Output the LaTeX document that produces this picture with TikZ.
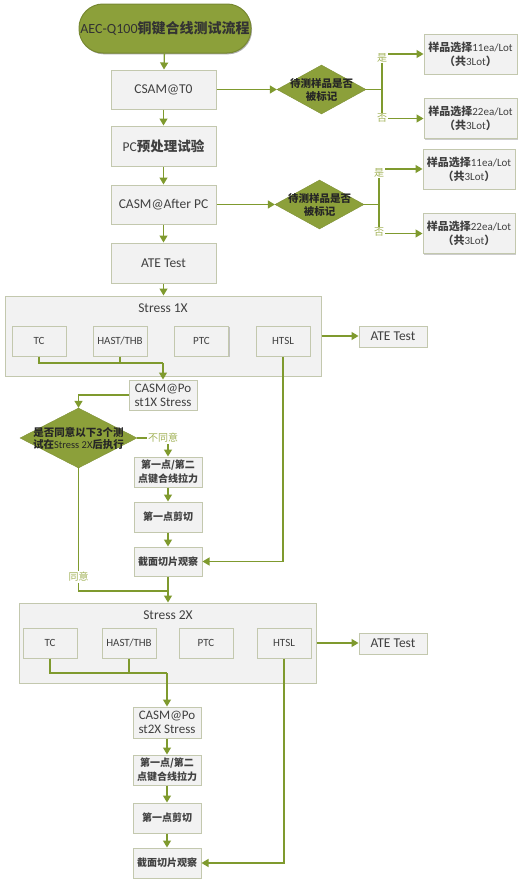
\documentclass[tikz,border=0pt]{standalone}
\usepackage{fontspec}
\setmainfont{Carlito}
\newfontfamily\cjkf{Noto Sans CJK SC}
\usetikzlibrary{shapes.geometric,shadows,arrows.meta}
\newcommand\zhb[1]{{\cjkf\bfseries #1}}
\newcommand\setfs[2]{\fontsize{#1}{#2}\selectfont}
\definecolor{lgreen}{HTML}{7F9A2E}
\definecolor{fgreen}{HTML}{8CA03A}
\definecolor{tgreen}{HTML}{A3B35A}
\definecolor{bfill}{HTML}{F2F2F2}
\definecolor{bdraw}{HTML}{C3C8AE}
\definecolor{txt}{HTML}{404040}
\tikzset{
  box/.style={draw=bdraw, line width=1pt, fill=bfill, text=txt, align=center, inner sep=1pt,
    drop shadow={shadow xshift=1pt,shadow yshift=-1.3pt,fill=black,opacity=0.2}},
  bigbox/.style={box, minimum width=105pt, minimum height=39pt, font=\setfs{13.5}{16}},
  rbox/.style={box, minimum width=93pt, minimum height=40pt, font=\setfs{11}{14}},
  ibox/.style={box, minimum width=54pt, minimum height=30pt, font=\setfs{11}{13}},
  abox/.style={box, minimum width=68pt, minimum height=21pt, font=\setfs{13.5}{16}},
  sbox/.style={box, minimum width=68pt, minimum height=30pt},
  cjkbox/.style={sbox, font=\cjkf\bfseries\setfs{10}{14}},
  dia/.style={diamond, fill=fgreen, draw=fgreen!90!black, inner sep=0pt},
  diat/.style={align=center, text=black!85, inner sep=0pt},
  line/.style={draw=lgreen, line width=1.3pt},
  conn/.style={line, -{Triangle[length=7pt,width=8pt]}},
  lab/.style={text=tgreen, fill=white, inner sep=1pt, font=\cjkf\setfs{10}{12}},
}
\begin{document}
\begin{tikzpicture}[x=1pt,y=-1pt]
\fill[white] (0,0) rectangle (522,886);
\useasboundingbox (0,0) rectangle (522,886);

% top part
\node[box, rounded corners=24pt, fill=fgreen, draw=fgreen!85!black, minimum width=172pt, minimum height=49pt, font=\setfs{14}{16}, text=black!80,
  drop shadow={shadow xshift=1pt,shadow yshift=-1.3pt,fill=black,opacity=0.15}] (title) at (165,28.5) {AEC-Q100\zhb{铜键合线测试流程}};
\node[bigbox] (b1) at (163.5,89.5) {CSAM@T0};
\node[bigbox, minimum height=40pt] (b2) at (163.5,146) {PC\zhb{预处理试验}};
\node[bigbox] (b3) at (163.5,204.5) {CASM@After PC};
\node[bigbox, minimum height=40pt] (b4) at (163.5,263) {ATE Test};

\node[dia, minimum width=89pt, minimum height=49pt] (d1) at (321.5,89.5) {};
\node[diat, font=\cjkf\bfseries\setfs{10.5}{13}] (d1t) at (321.5,89.5) {待测样品是否\\被标记};
\node[dia, minimum width=89pt, minimum height=49pt] (d2) at (319.5,204.5) {};
\node[diat, font=\cjkf\bfseries\setfs{10.5}{13}] (d2t) at (319.5,204.5) {待测样品是否\\被标记};

\node[rbox] (r1) at (470.5,54) {\zhb{样品选择}11ea/Lot\\\zhb{（共}3Lot\zhb{）}};
\node[rbox] (r2) at (470.5,118.5) {\zhb{样品选择}22ea/Lot\\\zhb{（共}3Lot\zhb{）}};
\node[rbox, minimum width=92pt] (r3) at (469,169) {\zhb{样品选择}11ea/Lot\\\zhb{（共}3Lot\zhb{）}};
\node[rbox, minimum width=92pt] (r4) at (469,233.5) {\zhb{样品选择}22ea/Lot\\\zhb{（共}3Lot\zhb{）}};

\coordinate (j1) at (382,89.5);
\coordinate (j2) at (379,204.5);

\draw[conn] (title) -- (b1);
\draw[conn] (b1) -- (b2);
\draw[conn] (b2) -- (b3);
\draw[conn] (b3) -- (b4);
\draw[conn] (b1) -- (d1);
\draw[conn] (b3) -- (d2);
\draw[line] (d1.east) -- (j1);
\draw[conn] (j1) |- (r1.west);
\draw[conn] (j1) |- (r2.west);
\draw[line] (d2.east) -- (j2);
\draw[conn] (j2) |- (r3.west);
\draw[conn] (j2) |- (r4.west);
\node[lab] (y1) at (382,57.5) {是};
\node[lab] (n1) at (382,118) {否};
\node[lab] (y2) at (379,172.5) {是};
\node[lab] (n2) at (379,232) {否};

% Stress 1X
\node[box, minimum width=316pt, minimum height=80pt] (s1) at (163,336) {};
\node[text=txt, font=\setfs{13.5}{16}] (s1t) at (163,308) {Stress 1X};
\node[ibox] (tc1) at (39,341) {TC};
\node[ibox] (ha1) at (120,341) {HAST/THB};
\node[ibox] (pt1) at (201.5,341) {PTC};
\node[ibox] (ht1) at (283,341) {HTSL};
\node[abox] (a1) at (393,336.5) {ATE Test};
\draw[conn] (b4.south) -- (b4.south |- s1.north);
\draw[conn] (s1.east) -- (s1.east -| a1.west);

\node[sbox, font=\setfs{13}{14}] (c1) at (163,395) {CASM@Po\\st1X Stress};
\coordinate (m1) at (163,363);
\draw[line] (tc1.south) |- (m1);
\draw[line] (ha1.south) -- (ha1.south |- m1);
\draw[conn] (m1) -- (c1.north);

\node[dia, minimum width=117pt, minimum height=60pt] (d3) at (78.5,438) {};
\node[diat, font=\setfs{10.5}{12.5}] (d3t) at (78.5,438.5) {\zhb{是否同意以下3个测}\\\zhb{试在}Stress 2X\zhb{后执行}};
\draw[conn] (c1.west) -| (d3.north);

\node[cjkbox] (p1) at (168,472) {第一点/第二\\点键合线拉力};
\node[cjkbox] (p2) at (168,517) {第一点剪切};
\node[cjkbox, minimum height=29pt] (p3) at (168,561.5) {截面切片观察};
\draw[conn] (d3.east) -| (p1.north);
\node[lab] (nd) at (163,438) {不同意};
\draw[conn] (p1) -- (p2);
\draw[conn] (p2) -- (p3);
\draw[conn] (ht1.south) |- (p3.east);

% Stress 2X
\node[box, minimum width=297pt, minimum height=80pt] (s2) at (167.5,643) {};
\node[text=txt, font=\setfs{13.5}{16}] (s2t) at (168,615) {Stress 2X};
\node[ibox] (tc2) at (50,643) {TC};
\node[ibox] (ha2) at (129,643) {HAST/THB};
\node[ibox] (pt2) at (206,643) {PTC};
\node[ibox] (ht2) at (284,643) {HTSL};
\node[abox] (a2) at (393,643.5) {ATE Test};
\draw[conn] (s2.east) -- (s2.east -| a2.west);

\coordinate (m2) at (168,591);
\draw[line] (d3.south) |- (m2);
\node[lab] (ag) at (78.5,577) {同意};
\draw[conn] (p3.south) -- (p3.south |- s2.north);

\node[sbox, minimum height=31pt, font=\setfs{13}{14}] (c2) at (167,722.5) {CASM@Po\\st2X Stress};
\coordinate (m3) at (167,673);
\draw[line] (tc2.south) |- (m3);
\draw[line] (ha2.south) -- (ha2.south |- m3);
\draw[conn] (m3) -- (c2.north);

\node[cjkbox] (q1) at (167,770) {第一点/第二\\点键合线拉力};
\node[cjkbox] (q2) at (167,818) {第一点剪切};
\node[cjkbox] (q3) at (167,863) {截面切片观察};
\draw[conn] (c2) -- (q1);
\draw[conn] (q1) -- (q2);
\draw[conn] (q2) -- (q3);
\draw[conn] (ht2.south) |- (q3.east);
\end{tikzpicture}
\end{document}
